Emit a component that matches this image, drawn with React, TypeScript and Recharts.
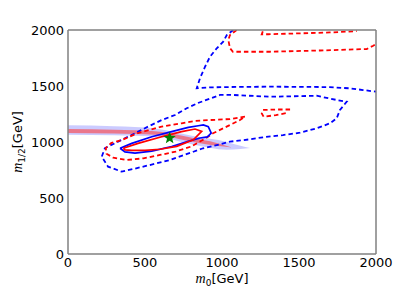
import React from "react";
import { ComposedChart, Line, Area, Scatter, XAxis, YAxis } from "recharts";

// contour paths, [m0, m1/2] in GeV
const blueDashTop: [number, number][] = [
  [1073, 2000], [1031, 1955], [1008, 1896], [966, 1837], [922, 1762], [890, 1672],
  [857, 1569], [836, 1480], [922, 1488], [1100, 1492], [1312, 1494], [1550, 1492],
  [1700, 1490], [1831, 1479], [1916, 1464], [2000, 1449],
];

const blueDashOuter: [number, number][] = [
  [844, 1348], [987, 1420], [1071, 1420], [1312, 1404], [1615, 1413], [1745, 1375],
  [1810, 1360], [1766, 1286], [1745, 1212], [1701, 1167], [1615, 1122], [1506, 1083],
  [1396, 1062], [1266, 1042], [1182, 1024], [1052, 1003], [966, 973], [877, 944],
  [814, 913], [662, 839], [489, 780], [349, 735], [260, 780], [219, 869], [240, 946],
  [325, 1003], [435, 1078], [519, 1137], [608, 1196], [695, 1241], [771, 1301], [844, 1348],
];

const redDashTopEdge: [number, number][] = [
  [1095, 2000], [1052, 1955], [1041, 1911], [1052, 1837], [1071, 1806], [1312, 1806],
  [1636, 1817], [1940, 1830], [1982, 1860], [2000, 1875],
];

const redDashTop: [number, number][] = [
  [1265, 1988], [1258, 1962], [1300, 1962], [1500, 1970], [1700, 1978], [1875, 1990],
];

const redDashLoop: [number, number][] = [
  [1149, 1226], [1052, 1205], [922, 1196], [825, 1188], [738, 1167], [608, 1137],
  [455, 1080], [349, 1018], [280, 990], [245, 945], [250, 895], [294, 860], [381, 839],
  [489, 854], [597, 884], [700, 915], [800, 960], [890, 1030], [942, 1078], [1030, 1137],
  [1117, 1196], [1149, 1226],
];

const redDashSmall: [number, number][] = [
  [1442, 1290], [1350, 1290], [1266, 1286], [1258, 1255], [1270, 1226], [1350, 1240], [1422, 1259],
];

const blueSolid: [number, number][] = [
  [338, 944], [414, 988], [544, 1047], [673, 1092], [781, 1130], [846, 1145], [879, 1152],
  [911, 1137], [930, 1080], [905, 1045], [857, 1036], [780, 1005], [673, 960], [544, 918],
  [435, 900], [370, 911], [338, 944],
];

const redSolid: [number, number][] = [
  [359, 944], [455, 988], [608, 1047], [738, 1092], [825, 1116], [868, 1095], [814, 1020],
  [706, 961], [597, 935], [500, 925], [414, 925], [370, 930], [359, 944],
];

// bands: m0, lower edge, upper edge
const blueBandX = [0, 300, 565, 812, 1032, 1120, 1182];
const blueBandLo = [1065, 1060, 1049, 977, 931, 937, 946];
const blueBandHi = [1149, 1140, 1121, 1053, 1001, 967, 946];

const redBandX = [0, 300, 565, 812, 960, 1063];
const redBandLo = [1080, 1075, 1064, 1000, 966, 952];
const redBandHi = [1116, 1109, 1096, 1036, 994, 952];

const bestFit = [{ x: 660, y: 1036 }];
const ticks = [0, 500, 1000, 1500, 2000];

const pts = (arr: [number, number][]) => arr.map(([x, y]) => ({ x, y }));
const band = (xs: number[], lo: number[], hi: number[]) =>
  xs.map((x, i) => ({ x, r: [lo[i], hi[i]] }));

const FRAME = "#808080";
const FONT = "'DejaVu Sans', sans-serif";

function starPath(cx: number, cy: number, R: number) {
  const r = R * 0.42;
  let d = "";
  for (let i = 0; i < 10; i++) {
    const rad = i % 2 === 0 ? R : r;
    const a = (Math.PI / 5) * i - Math.PI / 2;
    d += `${i === 0 ? "M" : "L"}${cx + rad * Math.cos(a)},${cy + rad * Math.sin(a)}`;
  }
  return d + "Z";
}

const dashed = { strokeDasharray: "4.5 3", strokeWidth: 1.8 };

export default function App() {
  return (
    <div style={{ position: "absolute", left: 0, top: 0, width: 400, height: 300 }}>
      <ComposedChart width={400} height={300} margin={{ top: 30, right: 24, bottom: 16, left: 8 }}>
        <XAxis
          dataKey="x" type="number" domain={[0, 2000]} ticks={ticks} allowDataOverflow
          height={30} tickSize={0} tickMargin={4} tickLine={false}
          axisLine={{ stroke: FRAME, strokeWidth: 1.5 }}
          tick={{ fill: "#000", fontSize: 13, fontFamily: FONT }}
          label={{
            content: () => (
              <text x={222} y={283} textAnchor="middle" fontSize={13} fontFamily={FONT} fill="#000">
                <tspan fontStyle="italic" fontFamily="'Liberation Serif', serif" fontSize={14}>m</tspan>
                <tspan fontSize={9} dy={3}>0</tspan>
                <tspan dy={-3}>[GeV]</tspan>
              </text>
            ),
          }}
        />
        <XAxis xAxisId="b" dataKey="x" type="number" domain={[0, 2000]} ticks={ticks} mirror
          orientation="bottom" tickSize={4} axisLine={false} tickLine={{ stroke: FRAME, strokeWidth: 1.2 }}
          tickFormatter={() => ""} />
        <XAxis xAxisId="t" dataKey="x" type="number" domain={[0, 2000]} ticks={ticks} mirror
          orientation="top" tickSize={4} axisLine={{ stroke: FRAME, strokeWidth: 1.5 }}
          tickLine={{ stroke: FRAME, strokeWidth: 1.2 }} tickFormatter={() => ""} />
        <YAxis
          type="number" domain={[0, 2000]} ticks={ticks} allowDataOverflow width={60}
          tickSize={0} tickMargin={4} tickLine={false}
          axisLine={{ stroke: FRAME, strokeWidth: 1.5 }}
          tick={{ fill: "#000", fontSize: 13, fontFamily: FONT }}
          label={{
            content: () => (
              <text x={22} y={142} textAnchor="middle" fontSize={13} fontFamily={FONT} fill="#000"
                transform="rotate(-90 22 142)">
                <tspan fontStyle="italic" fontFamily="'Liberation Serif', serif" fontSize={14}>m</tspan>
                <tspan fontSize={9} dy={3}>1/2</tspan>
                <tspan dy={-3}>[GeV]</tspan>
              </text>
            ),
          }}
        />
        <YAxis yAxisId="l" type="number" domain={[0, 2000]} ticks={ticks} mirror orientation="left"
          tickSize={4} axisLine={false} tickLine={{ stroke: FRAME, strokeWidth: 1.2 }} tickFormatter={() => ""} />
        <YAxis yAxisId="r" type="number" domain={[0, 2000]} ticks={ticks} mirror orientation="right"
          tickSize={4} axisLine={{ stroke: FRAME, strokeWidth: 1.5 }}
          tickLine={{ stroke: FRAME, strokeWidth: 1.2 }} tickFormatter={() => ""} />

        <Area data={band(blueBandX, blueBandLo, blueBandHi)} dataKey="r" type="monotone"
          stroke="none" fill="#a8a8ff" fillOpacity={0.6} isAnimationActive={false} />
        <Area data={band(redBandX, redBandLo, redBandHi)} dataKey="r" type="monotone"
          stroke="none" fill="#ff4040" fillOpacity={0.6} isAnimationActive={false} />

        <Line data={pts(blueDashTop)} dataKey="y" type="linear" stroke="#0000ff" {...dashed} dot={false} activeDot={false} isAnimationActive={false} />
        <Line data={pts(blueDashOuter)} dataKey="y" type="linear" stroke="#0000ff" {...dashed} dot={false} activeDot={false} isAnimationActive={false} />
        <Line data={pts(redDashTopEdge)} dataKey="y" type="linear" stroke="#ff0000" {...dashed} dot={false} activeDot={false} isAnimationActive={false} />
        <Line data={pts(redDashTop)} dataKey="y" type="linear" stroke="#ff0000" {...dashed} dot={false} activeDot={false} isAnimationActive={false} />
        <Line data={pts(redDashLoop)} dataKey="y" type="linear" stroke="#ff0000" {...dashed} dot={false} activeDot={false} isAnimationActive={false} />
        <Line data={pts(redDashSmall)} dataKey="y" type="linear" stroke="#ff0000" {...dashed} dot={false} activeDot={false} isAnimationActive={false} />
        <Line data={pts(blueSolid)} dataKey="y" type="linear" stroke="#0000ff" strokeWidth={1.7} dot={false} activeDot={false} isAnimationActive={false} />
        <Line data={pts(redSolid)} dataKey="y" type="linear" stroke="#ff0000" strokeWidth={1.7} dot={false} activeDot={false} isAnimationActive={false} />

        <Scatter data={bestFit} dataKey="y" isAnimationActive={false}
          shape={(p: any) => <path d={starPath(p.cx, p.cy, 6.5)} fill="#008000" />} />
      </ComposedChart>
    </div>
  );
}
